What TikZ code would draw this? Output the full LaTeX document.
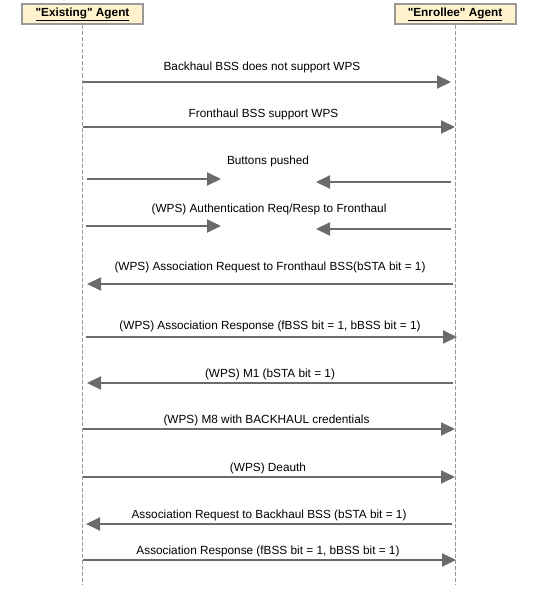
\documentclass[tikz,border=0pt]{standalone}
\usepackage{fontspec}
\setmainfont{Liberation Sans}
\newfontfamily\agentfont{Liberation Sans}[Ligatures=ResetAll]
\usetikzlibrary{arrows.meta}
\definecolor{boxfill}{HTML}{FFF2CC}
\definecolor{boxline}{HTML}{999999}
\definecolor{msgline}{HTML}{6B6B6B}

\begin{document}
\begin{tikzpicture}[x=1pt,y=-1pt,
    agent/.style={draw=boxline,line width=2pt,fill=boxfill,minimum width=121pt,minimum height=20pt,inner sep=0pt,font=\agentfont\fontsize{11.8}{14}\selectfont\bfseries},
    lifeline/.style={draw=boxline,line width=1pt,dash pattern=on 4pt off 2pt},
    msg/.style={draw=msgline,line width=2pt,-{Triangle[length=14pt,width=13pt]}},
    lbl/.style={font=\fontsize{11.8}{14}\selectfont,inner sep=0pt}]
    \useasboundingbox (0,0) rectangle (537,610);

    \coordinate (existEnd) at (82.5,585);
    \coordinate (enrolEnd) at (455,585);

    % message end points (start, tip)
    \coordinate (m1a) at (83,82);     \coordinate (m1b) at (451,82);
    \coordinate (m2a) at (83,127);    \coordinate (m2b) at (455,127);
    \coordinate (m3a) at (87,179);    \coordinate (m3b) at (221,179);
    \coordinate (m3c) at (451,182);   \coordinate (m3d) at (316,182);
    \coordinate (m4a) at (86,226);    \coordinate (m4b) at (221,226);
    \coordinate (m4c) at (451,229);   \coordinate (m4d) at (316,229);
    \coordinate (m5a) at (453,284);   \coordinate (m5b) at (87,284);
    \coordinate (m6a) at (86,337);    \coordinate (m6b) at (457,337);
    \coordinate (m7a) at (453,383);   \coordinate (m7b) at (87,383);
    \coordinate (m8a) at (83,429);    \coordinate (m8b) at (455,429);
    \coordinate (m9a) at (83,477);    \coordinate (m9b) at (455,477);
    \coordinate (m10a) at (452,524);  \coordinate (m10b) at (86,524);
    \coordinate (m11a) at (83,560);   \coordinate (m11b) at (456,560);

    % lifelines
    \node[agent] (exist) at (82.5,14.5) {\underline{"Existing" Agent}};
    \node[agent] (enrol) at (455,14.5) {\underline{"Enrollee" Agent}};
    \draw[lifeline] (exist.south) -- (existEnd);
    \draw[lifeline] (enrol.south) -- (enrolEnd);

    % messages
    \draw[msg] (m1a) -- (m1b);
    \node[lbl] (t1) at (262,67) {Backhaul BSS does not support WPS};
    \draw[msg] (m2a) -- (m2b);
    \node[lbl] (t2) at (263.5,114) {Fronthaul BSS support WPS};
    \draw[msg] (m3a) -- (m3b);
    \draw[msg] (m3c) -- (m3d);
    \node[lbl] (t3) at (268,161.5) {Buttons pushed};
    \draw[msg] (m4a) -- (m4b);
    \draw[msg] (m4c) -- (m4d);
    \node[lbl] (t4) at (269,209) {(WPS) Authentication Req/Resp to Fronthaul};
    \draw[msg] (m5a) -- (m5b);
    \node[lbl] (t5) at (270,267.5) {(WPS) Association Request to Fronthaul BSS(bSTA bit = 1)};
    \draw[msg] (m6a) -- (m6b);
    \node[lbl] (t6) at (270,326.5) {(WPS) Association Response (fBSS bit = 1, bBSS bit = 1)};
    \draw[msg] (m7a) -- (m7b);
    \node[lbl] (t7) at (270,374) {(WPS) M1 (bSTA bit = 1)};
    \draw[msg] (m8a) -- (m8b);
    \node[lbl] (t8) at (266.5,420) {(WPS) M8 with BACKHAUL credentials};
    \draw[msg] (m9a) -- (m9b);
    \node[lbl] (t9) at (268,468) {(WPS) Deauth};
    \draw[msg] (m10a) -- (m10b);
    \node[lbl] (t10) at (269,515) {Association Request to Backhaul BSS (bSTA bit = 1)};
    \draw[msg] (m11a) -- (m11b);
    \node[lbl] (t11) at (268,551.5) {Association Response (fBSS bit = 1, bBSS bit = 1)};

\end{tikzpicture}
\end{document}
